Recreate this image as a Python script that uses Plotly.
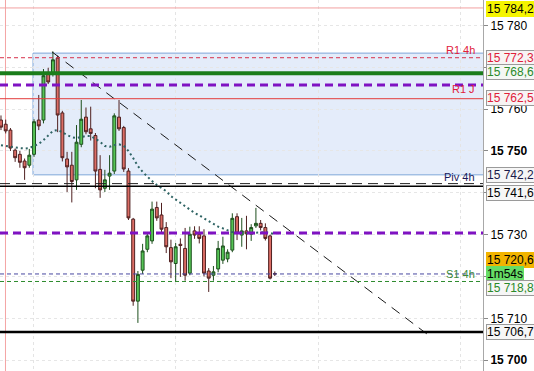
import plotly.graph_objects as go

# ---------------- data ----------------
opens = [15757.4, 15756.4, 15755.0, 15750.2, 15749.2, 15747.6, 15746.6, 15749.2, 15757.4, 15757.4,
         15768.4, 15768.3, 15772.2, 15759.1, 15748.1, 15746.6, 15743.1, 15751.6, 15758.1, 15755.3,
         15753.7, 15745.6, 15741.1, 15744.0, 15745.2, 15758.1, 15755.6, 15745.2, 15733.7, 15714.1,
         15721.5, 15726.5, 15728.5, 15736.5, 15734.7, 15731.7, 15726.9, 15723.1, 15727.7, 15726.7,
         15720.8, 15730.9, 15730.1, 15729.7, 15721.3, 15720.3, 15721.8, 15723.9, 15724.2, 15726.3,
         15734.3, 15729.9, 15730.9, 15730.1, 15732.1, 15732.7, 15731.7, 15729.7, 15720.7]
highs = [15758.5, 15757.5, 15755.5, 15750.6, 15750.0, 15748.2, 15750.5, 15757.6, 15763.4, 15769.6,
         15769.9, 15773.8, 15772.8, 15759.6, 15749.8, 15749.8, 15756.2, 15762.2, 15760.4, 15760.6,
         15754.3, 15749.0, 15745.5, 15749.0, 15759.0, 15762.2, 15756.0, 15745.9, 15734.0, 15721.3,
         15727.8, 15730.5, 15737.9, 15737.9, 15737.6, 15733.0, 15728.8, 15728.0, 15729.1, 15731.6,
         15731.9, 15732.0, 15732.0, 15731.3, 15722.0, 15722.5, 15728.5, 15729.5, 15726.5, 15735.1,
         15735.1, 15734.0, 15734.5, 15732.5, 15736.4, 15733.5, 15732.7, 15730.0, 15721.2]
lows = [15755.0, 15754.2, 15750.0, 15747.4, 15746.0, 15743.1, 15746.0, 15748.6, 15755.0, 15756.6,
        15766.0, 15767.8, 15754.5, 15747.5, 15740.2, 15737.7, 15740.7, 15750.9, 15754.0, 15752.5,
        15741.1, 15738.8, 15740.2, 15740.7, 15744.5, 15754.8, 15745.0, 15733.5, 15713.0, 15708.9,
        15720.6, 15725.8, 15727.8, 15733.3, 15730.5, 15725.6, 15719.6, 15718.7, 15719.9, 15719.0,
        15720.3, 15729.0, 15727.9, 15720.0, 15716.3, 15719.0, 15721.0, 15723.0, 15723.4, 15725.8,
        15728.7, 15727.1, 15726.5, 15728.5, 15731.6, 15731.0, 15728.6, 15719.3, 15720.1]
closes = [15755.7, 15754.8, 15750.7, 15748.4, 15747.3, 15746.0, 15749.0, 15757.0, 15756.0, 15768.0,
          15766.5, 15771.8, 15758.6, 15748.4, 15746.2, 15742.7, 15752.1, 15757.6, 15754.6, 15754.2,
          15745.2, 15740.7, 15743.1, 15744.7, 15758.4, 15755.3, 15745.7, 15734.0, 15714.1, 15720.5,
          15726.1, 15729.7, 15736.1, 15734.0, 15731.3, 15727.1, 15723.5, 15727.1, 15727.4, 15720.3,
          15730.1, 15729.9, 15729.1, 15720.8, 15719.6, 15721.1, 15726.7, 15727.3, 15725.8, 15733.9,
          15730.3, 15730.9, 15730.2, 15731.7, 15732.7, 15731.7, 15729.1, 15719.6, 15720.6]
moving_avg = [15751.4, 15751.2, 15751.0, 15750.8, 15750.7, 15750.6, 15750.7, 15751.2, 15751.7, 15752.6,
              15753.8, 15754.8, 15755.0, 15754.5, 15753.8, 15753.3, 15753.1, 15753.3, 15753.6, 15753.6,
              15752.9, 15752.2, 15751.2, 15751.0, 15751.4, 15751.6, 15751.2, 15750.0, 15748.3, 15746.4,
              15745.0, 15743.8, 15742.8, 15741.9, 15741.1, 15740.4, 15739.2, 15738.4, 15737.7, 15736.7,
              15735.9, 15735.2, 15734.6, 15733.9, 15733.1, 15732.4, 15731.9, 15731.5, 15731.0, 15730.6,
              15730.5, 15730.4, 15730.4, 15730.4, 15730.5, 15730.6, 15730.6, 15730.4, 15730.1]
bar_index = list(range(len(opens)))

trend_x = [10.8, 90.3]
trend_y = [15773.7, 15706.2]

high_level = 15784.2
r1_4h = 15772.3
green_level = 15768.6
purple_hi = 15765.8
r1_j = 15762.5
piv_4h = 15742.2
black_level = 15741.6
purple_lo = 15730.4
last_price = 15720.6
s1_4h = 15720.6
green_low = 15718.8
black_low = 15706.7
zone_top, zone_bottom, zone_start = 15773.4, 15744.3, 6.78
session_line_x = 0.95
grid_x = [6.8, 36.9, 67.2, 97.3]
price_ticks = [15700, 15710, 15720, 15730, 15740, 15750, 15760, 15770, 15780]
timer_text = "1m54s"

X_MIN, X_MAX = -0.21, 102.1
Y_MIN, Y_MAX = 15697.4, 15786.1
FONT = "Liberation Sans, Arial, sans-serif"


def fmt(v):
    return f"{v:,.1f}".replace(",", " ").replace(".", ",")


def tick_text(v):
    if v in (15720, 15740, 15770):
        return ""
    t = f"{v:,}".replace(",", " ")
    return f"<b>{t}</b>" if v % 50 == 0 else t


fig = go.Figure()

fig.add_trace(go.Candlestick(
    x=bar_index, open=opens, high=highs, low=lows, close=closes,
    increasing=dict(fillcolor="#55c455", line=dict(color="#1d4f1d", width=1)),
    decreasing=dict(fillcolor="#dc6d65", line=dict(color="#4f2020", width=1)),
    whiskerwidth=0, hoverinfo="skip", showlegend=False,
))

fig.add_trace(go.Scatter(
    x=bar_index, y=moving_avg, mode="lines",
    line=dict(color="#2f6464", width=2, dash="2px,3px"),
    hoverinfo="skip", showlegend=False,
))

fig.add_trace(go.Scatter(
    x=trend_x, y=trend_y, mode="lines",
    line=dict(color="#1a1a1a", width=1, dash="10px,7px"),
    hoverinfo="skip", showlegend=False,
))

shapes = []
# zone rectangle
shapes.append(dict(type="rect", xref="x", yref="y", x0=zone_start, x1=X_MAX + 1,
                   y0=zone_bottom, y1=zone_top, fillcolor="#e4ecfa",
                   line=dict(color="#7ea6d8", width=1), layer="below"))
# session vertical
shapes.append(dict(type="line", xref="x", yref="paper", x0=session_line_x, x1=session_line_x,
                   y0=0, y1=1, line=dict(color="#f4a4a4", width=1), layer="below"))


def hline(y, color, width, dash="solid"):
    shapes.append(dict(type="line", xref="paper", yref="y", x0=0, x1=1, y0=y, y1=y,
                       line=dict(color=color, width=width, dash=dash), layer="above"))


hline(high_level, "#f2a0a0", 1)
hline(r1_4h, "#d6304a", 1, "4px,3px")
hline(green_level, "#1b7d1b", 4)
hline(purple_hi, "#7f12c2", 3, "8px,5px")
hline(r1_j, "#e23a3a", 1)
hline(piv_4h, "#222222", 1, "10px,6px")
hline(black_level, "#000000", 1.5)
hline(purple_lo, "#7f12c2", 3, "8px,5px")
hline(s1_4h, "#4848a0", 1, "4px,3px")
hline(green_low, "#2e8b2e", 1, "4px,3px")
hline(black_low, "#000000", 2.5)

annotations = []


def level_label(text, y, color, yanchor, yshift):
    annotations.append(dict(xref="paper", yref="y", x=1, y=y, xanchor="right", yanchor=yanchor,
                            xshift=-6, yshift=yshift, text=text, showarrow=False,
                            font=dict(family=FONT, size=11, color=color)))


level_label("R1 4h", r1_4h, "#e0203a", "bottom", 0)
level_label("R1 J", r1_j, "#e0203a", "bottom", 2)
level_label("Piv 4h", piv_4h, "#1a1a5a", "bottom", -1)
level_label("S1 4h", s1_4h, "#3a8a3a", "middle", 0)


def box_label(text, y, color, bg, border, yshift=0):
    annotations.append(dict(xref="paper", yref="y", x=1, y=y, xanchor="left", yanchor="middle",
                            xshift=3, yshift=yshift, text=text, showarrow=False,
                            font=dict(family=FONT, size=12, color=color),
                            bgcolor=bg, bordercolor=border, borderwidth=1, borderpad=0))


box_label(fmt(high_level), high_level, "#000000", "#f5f500", "#f5f500", -1)
box_label(fmt(r1_4h), r1_4h, "#e0203a", "#f7f4f4", "#9a9a9a", 0)
box_label(fmt(green_level), green_level, "#2a8a2a", "#f4f7f4", "#9a9a9a", 1)
box_label(fmt(r1_j), r1_j, "#e0203a", "#f7f4f4", "#9a9a9a", 1)
box_label(fmt(piv_4h), piv_4h, "#1a1a4a", "#f6f6f6", "#9a9a9a", 8.5)
box_label(fmt(black_level), black_level, "#000000", "#f6f6f6", "#9a9a9a", -7)
box_label(fmt(last_price), last_price, "#000000", "#f2b400", "#f2b400", 14)
box_label(timer_text, last_price, "#000000", "#66dd66", "#66dd66", 0)
box_label(fmt(green_low), green_low, "#2a8a2a", "#f6f6f6", "#9a9a9a", -6.5)
box_label(fmt(black_low), black_low, "#000000", "#f6f6f6", "#9a9a9a", 0)

fig.update_layout(
    width=534, height=371,
    margin=dict(l=0, r=51, t=0, b=0),
    paper_bgcolor="white", plot_bgcolor="white",
    boxgap=0.12,
    shapes=shapes, annotations=annotations,
    showlegend=False,
    xaxis=dict(range=[X_MIN, X_MAX], rangeslider=dict(visible=False),
               tickvals=grid_x, showticklabels=False, ticks="",
               showgrid=True, gridcolor="#e4e4e4", griddash="dot", gridwidth=1,
               zeroline=False, showline=False, fixedrange=True, automargin=False),
    yaxis=dict(range=[Y_MIN, Y_MAX], side="right",
               tickvals=price_ticks, ticktext=[tick_text(v) for v in price_ticks],
               ticks="outside", ticklen=4, tickcolor="#8a8a8a",
               tickfont=dict(family=FONT, size=12, color="#000000"),
               showgrid=True, gridcolor="#e6e6e6", griddash="dot", gridwidth=1,
               showline=True, linecolor="#a8a8a8", linewidth=1,
               zeroline=False, fixedrange=True, automargin=False),
)

fig.write_html(
    "out.html",
    config={"displayModeBar": False},
    post_script="document.body.style.margin='0px';document.body.style.overflow='hidden';",
)
